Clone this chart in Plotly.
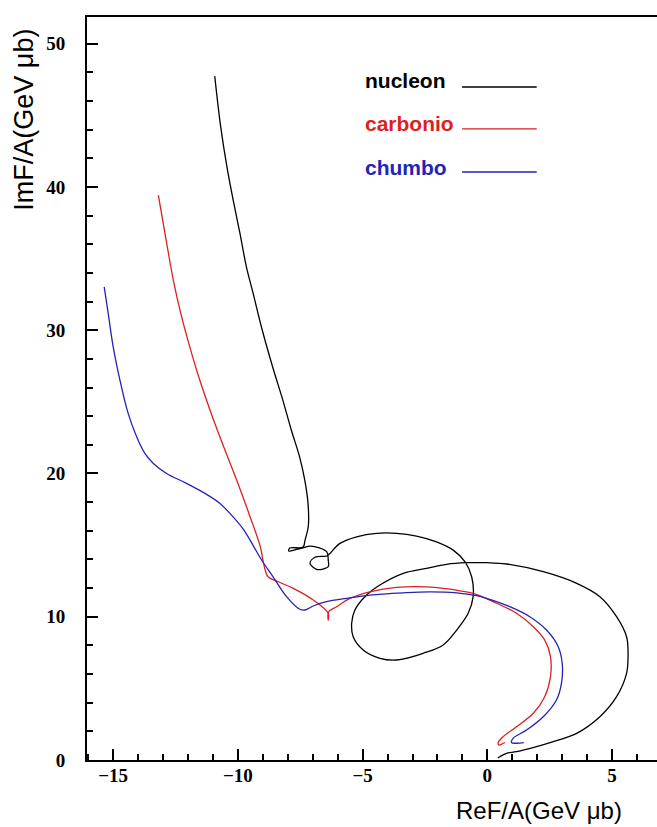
import plotly.graph_objects as go

# ---- data (ReF/A, ImF/A) in GeV·μb ----
nucleon_re = [-10.93, -10.69, -10.44, -10.19, -9.92, -9.66, -9.39, -9.06, -8.61, -8.20, -7.86,
              -7.53, -7.32, -7.19, -7.18, -7.31, -7.39, -7.92, -7.96, -7.64, -7.39, -7.09, -6.44,
              -6.38, -6.38, -6.63, -6.85, -7.11, -6.91, -6.44, -6.31, -5.91, -5.24, -4.44, -3.64,
              -2.84, -2.04, -1.37, -0.90, -0.63, -0.57, -0.77, -1.23, -1.77, -2.57, -3.64, -4.31,
              -4.98, -5.38, -5.44, -5.31, -4.91, -4.31, -3.37, -2.44, -1.64, -0.83, 0.00, 0.77,
              2.24, 3.58, 4.51, 5.18, 5.58, 5.64, 5.58, 5.18, 4.51, 3.58, 2.64, 1.97, 1.17, 0.77,
              0.50, 0.42]
nucleon_im = [47.73, 44.19, 41.40, 39.08, 36.78, 34.42, 32.57, 30.24, 27.45, 25.12, 23.03,
              21.17, 19.54, 17.91, 16.28, 15.35, 14.86, 14.79, 14.58, 14.70, 14.80, 14.93, 14.54,
              13.96, 13.49, 13.31, 13.31, 13.73, 14.15, 14.24, 14.42, 15.12, 15.58, 15.82, 15.82,
              15.63, 15.23, 14.65, 13.84, 12.79, 11.40, 10.24, 9.07, 8.03, 7.45, 6.98, 7.10,
              7.68, 8.60, 9.54, 10.47, 11.40, 12.21, 13.03, 13.38, 13.66, 13.77, 13.77, 13.68,
              13.14, 12.33, 11.40, 10.00, 8.60, 7.45, 6.05, 4.42, 3.02, 1.86, 1.28, 0.93, 0.58, 0.47,
              0.23, 0.14]

carbonio_re = [-13.19, -12.83, -12.59, -12.29, -11.93, -11.53, -11.07, -10.57, -10.05, -9.56,
               -9.10, -8.97, -8.79, -8.38, -7.78, -6.98, -6.38, -6.38, -6.37, -6.04, -5.51, -4.71,
               -3.64, -2.44, -1.50, -1.10, -0.57, 0.23, 1.17, 1.84, 2.30, 2.53, 2.53, 2.30, 1.84,
               1.17, 0.63, 0.43, 0.46, 0.70]
carbonio_im = [39.43, 35.82, 33.50, 31.17, 28.84, 26.52, 24.19, 21.86, 19.54, 17.21,
               14.88, 13.72, 12.79, 12.44, 11.98, 11.17, 10.24, 9.77, 10.33, 10.70, 11.28, 11.74,
               12.05, 12.09, 11.93, 11.81, 11.63, 11.05, 10.24, 9.30, 8.37, 7.21, 5.81, 4.42, 3.26,
               2.32, 1.63, 1.21, 1.05, 1.22]

chumbo_re = [-15.36, -15.20, -15.00, -14.73, -14.40, -14.06, -13.73, -13.39, -12.86, -12.06, -11.32,
             -10.72, -10.32, -9.76, -9.36, -9.00, -8.59, -8.05, -7.52, -7.31, -6.98, -6.45, -5.64,
             -4.71, -3.37, -2.30, -1.23, -0.43, -0.03, 0.90, 1.70, 2.37, 2.84, 3.00, 2.97, 2.77,
             2.24, 1.57, 1.03, 0.97, 1.17, 1.46]
chumbo_im = [33.03, 31.17, 28.84, 26.52, 24.19, 22.56, 21.40, 20.70, 20.00, 19.31, 18.61,
             17.91, 17.21, 16.05, 14.88, 13.82, 12.79, 11.40, 10.52, 10.47, 10.75, 11.05, 11.28,
             11.51, 11.67, 11.74, 11.67, 11.47, 11.28, 10.70, 10.00, 9.07, 7.91, 6.75, 5.35, 4.19,
             3.02, 2.09, 1.51, 1.21, 1.17, 1.21]

series_names = ["nucleon", "carbonio", "chumbo"]
series_colors = ["#000000", "#dd1f1f", "#2323b8"]

x_tick_vals = [-15, -10, -5, 0, 5]
y_tick_vals = [0, 10, 20, 30, 40, 50]

fig = go.Figure()
for xs, ys, name, col in zip([nucleon_re, carbonio_re, chumbo_re],
                             [nucleon_im, carbonio_im, chumbo_im],
                             series_names, series_colors):
    fig.add_trace(go.Scatter(x=xs, y=ys, mode="lines", name=name,
                             line=dict(color=col, width=1.3, shape="spline", smoothing=1.0),
                             showlegend=False))

tickfont = dict(family="Liberation Serif", size=19, color="black", weight="bold")

fig.update_layout(
    width=657, height=827, autosize=False,
    margin=dict(l=87, r=0, t=17, b=67),
    plot_bgcolor="white", paper_bgcolor="white",
    xaxis=dict(range=[-16.05, 6.8], showgrid=False, zeroline=False,
               showline=True, linecolor="black", linewidth=2, mirror=True,
               ticks="inside", ticklen=11, tickwidth=2, tickcolor="black",
               tickvals=x_tick_vals, tickfont=tickfont, ticklabelstandoff=-3,
               minor=dict(ticks="inside", ticklen=6, tickwidth=1.5, tickcolor="black", dtick=1, showgrid=False)),
    yaxis=dict(range=[0, 51.86], showgrid=False, zeroline=False,
               showline=True, linecolor="black", linewidth=2, mirror=False,
               ticks="inside", ticklen=11, tickwidth=2, tickcolor="black",
               tickvals=y_tick_vals, tickfont=tickfont, ticklabelstandoff=16,
               minor=dict(ticks="inside", ticklen=6, tickwidth=1.5, tickcolor="black", dtick=2, showgrid=False)),
)

# axis titles
fig.add_annotation(text="ImF/A(GeV μb)", xref="paper", yref="paper", x=-0.112, y=0.862,
                   textangle=-90, showarrow=False, xanchor="center", yanchor="middle",
                   font=dict(family="Liberation Sans", size=27, color="black"))
fig.add_annotation(text="ReF/A(GeV μb)", xref="paper", yref="paper", x=0.793, y=-0.0686,
                   showarrow=False, xanchor="center", yanchor="middle",
                   font=dict(family="Liberation Sans", size=24, color="black"))

# legend (text + line samples)
leg_text_y = [0.915, 0.857, 0.798]
leg_line_y = [0.9058, 0.8493, 0.7914]
for name, col, ty, ly in zip(series_names, series_colors, leg_text_y, leg_line_y):
    fig.add_annotation(text=name, xref="paper", yref="paper", x=0.484, y=ty,
                       showarrow=False, xanchor="left", yanchor="middle",
                       font=dict(family="Liberation Sans", size=21, color=col, weight="bold"))
    fig.add_shape(type="line", xref="paper", yref="paper", x0=0.658, x1=0.789, y0=ly, y1=ly,
                  line=dict(color=col, width=1.3))

fig.write_html("out.html")
